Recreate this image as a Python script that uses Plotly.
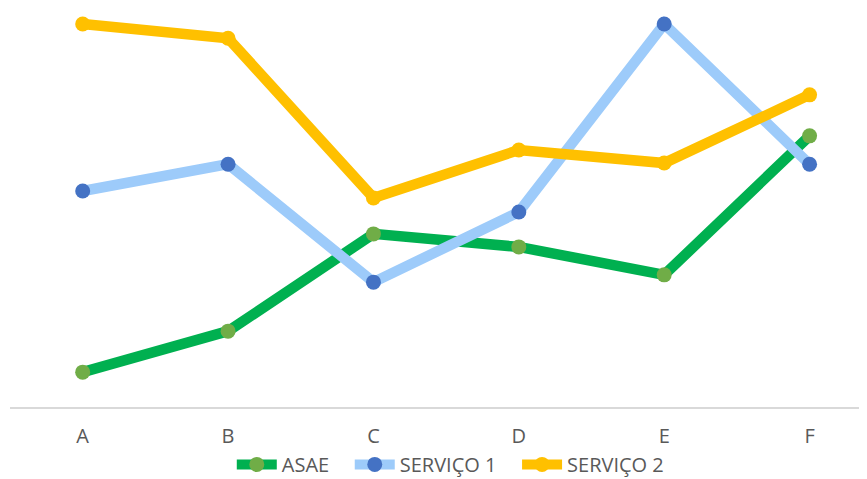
import plotly.graph_objects as go

categories = ["A", "B", "C", "D", "E", "F"]
asae = [0.91, 1.98, 4.52, 4.18, 3.45, 7.08]
servico1 = [5.64, 6.34, 3.26, 5.09, 10.0, 6.34]
servico2 = [10.0, 9.63, 5.46, 6.71, 6.37, 8.15]
series_names = ["ASAE", "SERVIÇO 1", "SERVIÇO 2"]

styles = [
    ("#00B050", "#70AD47"),
    ("#9DCBFA", "#4472C4"),
    ("#FFC000", "#FFC000"),
]

fig = go.Figure()
for i, (name, vals) in enumerate(zip(series_names, [asae, servico1, servico2])):
    lc, mc = styles[i]
    label = name + ("\u00a0\u00a0\u00a0" if i < 2 else "")
    fig.add_trace(go.Scatter(
        x=list(range(len(categories))), y=vals, name=label,
        mode="lines+markers",
        line=dict(color=lc, width=10.5),
        marker=dict(color=mc, size=15),
        cliponaxis=False,
    ))

fig.update_layout(
    width=867, height=479,
    margin=dict(l=2, r=0, t=3, b=80),
    paper_bgcolor="white", plot_bgcolor="white",
    font=dict(family="Open Sans", size=20, color="#595959"),
    showlegend=True,
    legend=dict(orientation="h", x=0.509, xanchor="center", y=-0.145, yanchor="middle",
                font=dict(size=20, color="#595959"), itemwidth=40, tracegroupgap=0),
    xaxis=dict(range=[-0.5, 5.45], tickmode="array", tickvals=list(range(len(categories))),
               ticktext=categories, showgrid=False, zeroline=False,
               showline=True, linecolor="#D9D9D9", linewidth=2,
               ticks="outside", ticklen=10, tickcolor="rgba(0,0,0,0)",
               tickfont=dict(size=20, color="#595959")),
    yaxis=dict(range=[0, 10.34], showgrid=False, zeroline=False, showticklabels=False,
               showline=False),
)

fig.write_html("out.html")
